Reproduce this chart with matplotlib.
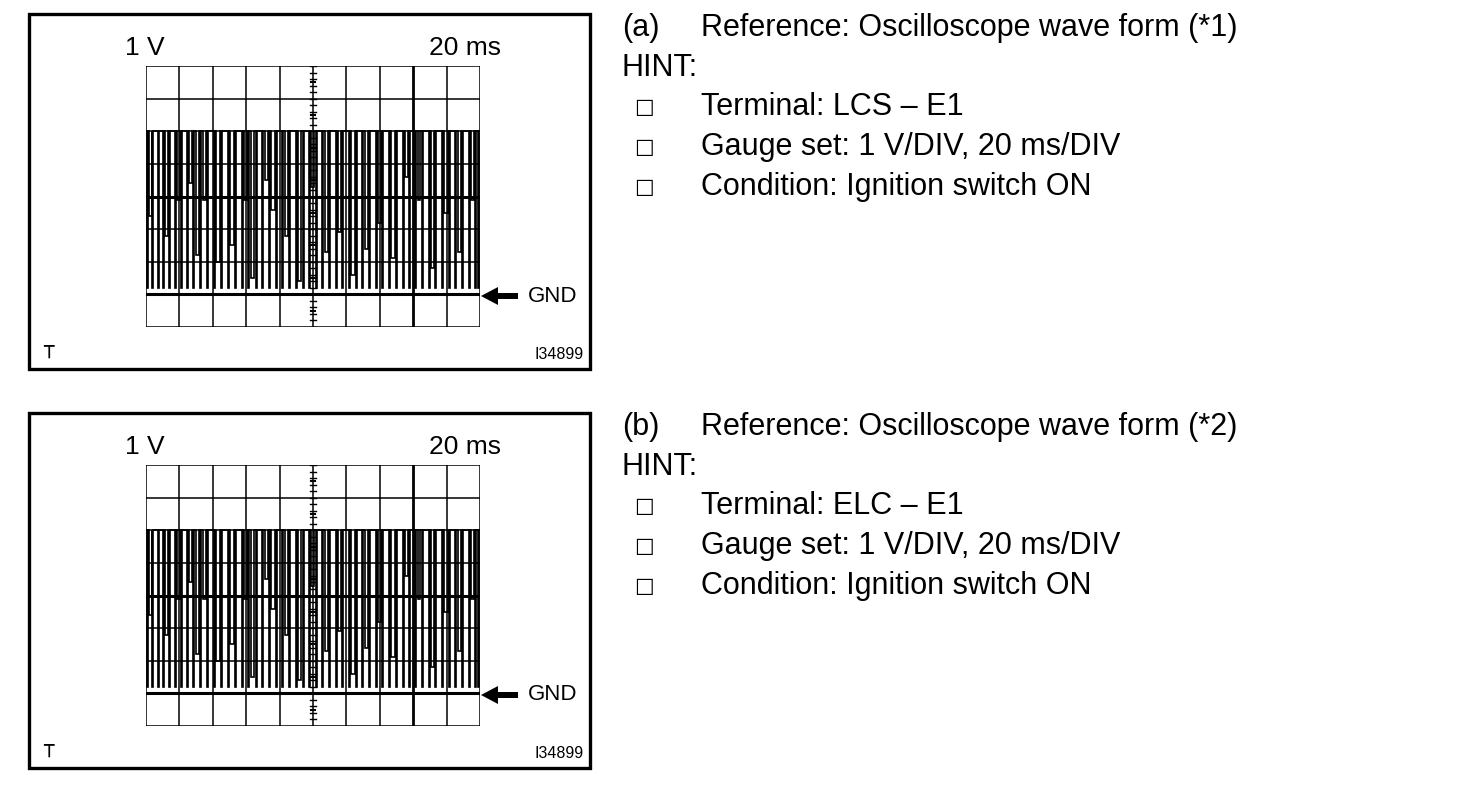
import matplotlib
matplotlib.use("Agg")
import matplotlib.pyplot as plt
from matplotlib.patches import Rectangle

plt.rcParams['font.family'] = ['Liberation Sans', 'DejaVu Sans']

# ---- data ----
volt_label = "1 V"
time_label = "20 ms"
panel_tags = ["(a)", "(b)"]
panel_titles = ["Reference: Oscilloscope wave form (*1)", "Reference: Oscilloscope wave form (*2)"]
hint_items = [
    ["Terminal: LCS – E1", "Gauge set: 1 V/DIV, 20 ms/DIV", "Condition: Ignition switch ON"],
    ["Terminal: ELC – E1", "Gauge set: 1 V/DIV, 20 ms/DIV", "Condition: Ignition switch ON"],
]
figure_id = "I34899"
high_level = 5.0  # volts (divisions above GND)

# pulse start times (div), widths (div), low levels (V)
pulse_t = [0.03, 0.09, 0.19, 0.36, 0.51, 0.57, 0.69, 0.86, 0.93, 1.05,
           1.24, 1.30, 1.42, 1.50, 1.63, 1.71, 1.84, 2.03, 2.11, 2.25,
           2.45, 2.52, 2.66, 2.87, 2.94, 3.06, 3.14, 3.29, 3.48, 3.55,
           3.68, 3.75, 3.88, 4.07, 4.15, 4.29, 4.48, 4.55, 4.69, 4.88,
           4.95, 5.08, 5.27, 5.35, 5.49, 5.68, 5.75, 5.88, 6.08, 6.15,
           6.29, 6.48, 6.55, 6.68, 6.88, 6.95, 7.08, 7.28, 7.35, 7.49,
           7.68, 7.75, 7.88, 8.05, 8.13, 8.27, 8.46, 8.53, 8.66, 8.86,
           8.93, 9.06, 9.26, 9.33, 9.46, 9.66, 9.73, 9.86, 9.95]
pulse_w = [0.03, 0.09, 0.03, 0.03, 0.03, 0.09, 0.03, 0.03, 0.08, 0.03,
           0.03, 0.09, 0.03, 0.10, 0.03, 0.08, 0.03, 0.03, 0.10, 0.03,
           0.03, 0.10, 0.03, 0.03, 0.08, 0.03, 0.10, 0.03, 0.03, 0.09,
           0.03, 0.10, 0.03, 0.03, 0.10, 0.03, 0.03, 0.10, 0.03, 0.03,
           0.08, 0.03, 0.03, 0.10, 0.03, 0.03, 0.10, 0.03, 0.03, 0.10,
           0.03, 0.03, 0.10, 0.03, 0.03, 0.10, 0.03, 0.03, 0.10, 0.03,
           0.03, 0.09, 0.03, 0.03, 0.08, 0.03, 0.03, 0.10, 0.03, 0.03,
           0.10, 0.03, 0.03, 0.10, 0.03, 0.03, 0.08, 0.03, 0.03]
pulse_low = [0.2, 2.4, 0.2, 0.2, 0.2, 1.8, 0.2, 0.2, 2.9, 0.2,
             0.2, 3.4, 0.2, 1.2, 0.2, 2.9, 0.2, 0.2, 1.0, 0.2,
             0.2, 1.5, 0.2, 0.2, 2.9, 0.2, 0.5, 0.2, 0.2, 3.5,
             0.2, 2.6, 0.2, 0.2, 1.8, 0.2, 0.2, 0.4, 0.2, 0.2,
             3.3, 0.2, 0.2, 1.3, 0.2, 0.2, 1.9, 0.2, 0.2, 0.6,
             0.2, 0.2, 1.4, 0.2, 0.2, 2.2, 0.2, 0.2, 1.1, 0.2,
             0.2, 3.6, 0.2, 0.2, 2.9, 0.2, 0.2, 0.8, 0.2, 0.2,
             2.5, 0.2, 0.2, 1.3, 0.2, 0.2, 2.9, 0.2, 0.2]

W, H = 1472, 788
fig = plt.figure(figsize=(W / 100, H / 100), dpi=100)
fig.patch.set_facecolor("white")

# overlay axes in pixel coordinates for frames & text
ov = fig.add_axes([0, 0, 1, 1])
ov.set_xlim(0, W)
ov.set_ylim(H, 0)
ov.axis("off")


def build_wave():
    xs, ys = [0.0], [high_level]
    for t, w, lo in zip(pulse_t, pulse_w, pulse_low):
        xs += [t, t, t + w, t + w]
        ys += [high_level, lo, lo, high_level]
    xs.append(10.0)
    ys.append(high_level)
    return xs, ys


def px_to_fig(x0, y0, x1, y1):
    return [x0 / W, 1 - y1 / H, (x1 - x0) / W, (y1 - y0) / H]


BIG = 22

for k in range(2):
    dy = 399 * k
    # frame
    ov.add_patch(Rectangle((29, 14 + dy), 561, 355, fill=False, lw=2.4, ec="black"))
    ov.text(125, 48 + dy, volt_label, fontsize=19, ha="left", va="center")
    ov.text(429, 48 + dy, time_label, fontsize=19, ha="left", va="center")
    ov.text(48, 352 + dy, "⊤", fontsize=15, ha="center", va="center",
            family=["Noto Sans CJK JP", "DejaVu Sans Mono", "DejaVu Serif", "DejaVu Sans"])
    ov.text(584, 354 + dy, figure_id, fontsize=11.5, ha="right", va="center")
    # GND arrow
    ov.arrow(518, 296 + dy, -20, 0, width=6, head_width=18, head_length=17,
             length_includes_head=False, fc="black", ec="black", lw=0)
    ov.text(528, 296 + dy, "GND", fontsize=16, ha="left", va="center")

    # right text block
    ov.text(622, 28 + dy, panel_tags[k], fontsize=BIG, ha="left", va="center")
    ov.text(701, 28 + dy, panel_titles[k], fontsize=BIG, ha="left", va="center")
    ov.text(622, 68 + dy, "HINT:", fontsize=BIG, ha="left", va="center")
    for i, item in enumerate(hint_items[k]):
        yy = 107 + 40 * i + dy
        ov.text(644, yy, "□", fontsize=15, ha="center", va="center",
                family=["DejaVu Sans"])
        ov.text(701, yy, item, fontsize=BIG, ha="left", va="center")

    # scope grid axes
    ax = fig.add_axes(px_to_fig(146, 66 + dy, 480, 327 + dy))
    ax.set_xlim(0, 10)
    ax.set_ylim(-1, 7)
    ax.axis("off")
    for xv in range(0, 11):
        ax.axvline(xv, color="black", lw=2.0 if xv == 8 else 1.1, zorder=1)
    for yv in range(-1, 8):
        ax.axhline(yv, color="black", lw=2.2 if yv in (0, 3) else 1.1, zorder=1)
    # center graticule ticks
    for j in range(0, 41):
        yv = -1 + j * 0.2
        ax.plot([4.91, 5.09], [yv, yv], color="black", lw=1.0, zorder=2)
    for j in range(0, 8):
        yv = -0.5 + j
        ax.plot([4.93, 5.07], [yv, yv], color="black", lw=1.5, zorder=2)
    xs, ys = build_wave()
    ax.plot(xs, ys, color="black", lw=1.2, zorder=3, solid_joinstyle="miter")

fig.savefig("out.png", dpi=100, facecolor="white")
